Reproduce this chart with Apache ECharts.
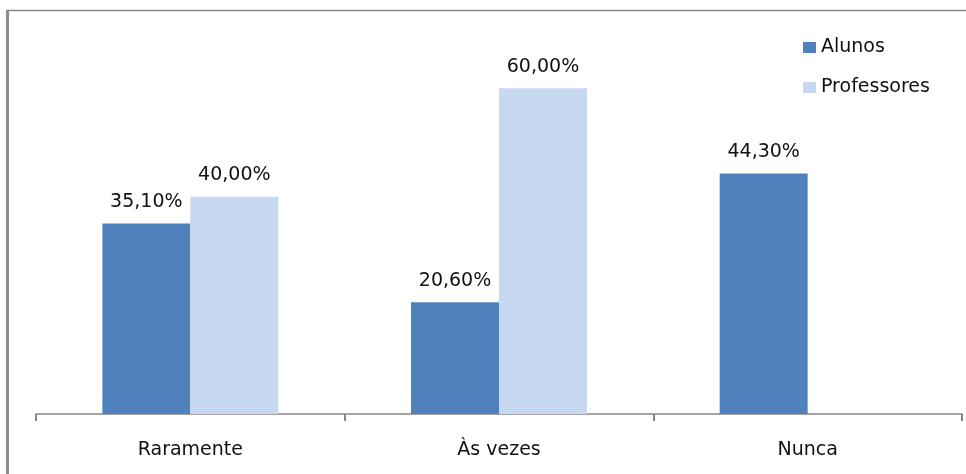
<!DOCTYPE html>
<html>
<head>
<meta charset="utf-8">
<script src="https://cdn.jsdelivr.net/npm/echarts@6/dist/echarts.min.js"></script>
<style>
  html, body { margin: 0; padding: 0; background: #fff; }
  #chart { width: 966px; height: 474px; }
</style>
</head>
<body>
<div id="chart"></div>
<script>
// categories and values (percent)
const categories = ["Raramente", "Às vezes", "Nunca"];
const alunos = [35.1, 20.6, 44.3];
const professores = [40.0, 60.0, null];

const FONT = "DejaVu Sans";

const chart = echarts.init(document.getElementById("chart"), null, { renderer: "canvas" });

function pct(p) {
  return p.value.toFixed(2).replace(".", ",") + "%";
}

const labelStyle = {
  show: true,
  position: "top",
  distance: 12,
  formatter: pct,
  color: "#111",
  fontFamily: FONT,
  fontSize: 19,
};

chart.setOption({
  backgroundColor: "#fff",
  animation: false,
  grid: {
    left: 36,
    right: 4,
    top: 34,
    bottom: 60,
    containLabel: false,
  },
  legend: {
    orient: "vertical",
    left: 798,
    top: 33,
    itemWidth: 13,
    itemHeight: 11,
    itemGap: 21,
    icon: "rect",
    textStyle: { color: "#111", fontFamily: FONT, fontSize: 19 },
    data: ["Alunos", "Professores"],
  },
  xAxis: {
    type: "category",
    data: categories,
    axisLine: { lineStyle: { color: "#868686", width: 1.5 } },
    axisTick: {
      show: true,
      interval: 0,
      length: 7,
      lineStyle: { color: "#868686", width: 2 },
    },
    axisLabel: {
      margin: 27,
      color: "#111",
      fontFamily: FONT,
      fontSize: 19,
    },
    splitLine: { show: false },
  },
  yAxis: {
    type: "value",
    min: 0,
    max: 70,
    show: false,
    splitLine: { show: false },
  },
  series: [
    {
      name: "Alunos",
      type: "bar",
      data: alunos,
      barGap: 0,
      barCategoryGap: "43%",
      itemStyle: { color: "#4F81BD" },
      label: labelStyle,
    },
    {
      name: "Professores",
      type: "bar",
      data: professores,
      itemStyle: { color: "#C6D9F1" },
      label: labelStyle,
    },
  ],
  graphic: [
    // frame of the original picture: left and top edge
    {
      type: "line",
      shape: { x1: 7.5, y1: 10, x2: 7.5, y2: 474 },
      style: { stroke: "#8c8c8c", lineWidth: 3 },
    },
    {
      type: "line",
      shape: { x1: 6, y1: 10.5, x2: 966, y2: 10.5 },
      style: { stroke: "#8c8c8c", lineWidth: 1.5 },
    },
  ],
});
</script>
</body>
</html>
